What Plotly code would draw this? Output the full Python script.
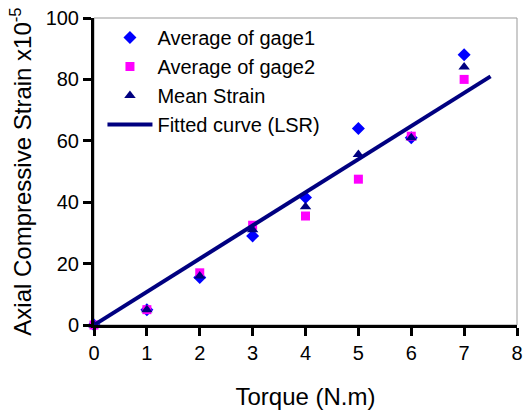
import plotly.graph_objects as go

torque = [0, 1, 2, 3, 4, 5, 6, 7]
gage1 = [0, 5, 15.5, 29, 41.5, 64, 61, 88]
gage2 = [0, 5, 17, 32.5, 35.5, 47.5, 61.5, 80]
mean_strain = [0, 5, 16, 31, 38.5, 55.5, 61, 84]
fit_x = [0, 7.5]
fit_y = [0, 81]

font = "Liberation Sans, Arial, sans-serif"

fig = go.Figure()
fig.add_trace(go.Scatter(x=torque, y=gage1, mode="markers", name="Average of gage1",
                         marker=dict(symbol="diamond", size=10, color="#0000FF"), cliponaxis=False))
fig.add_trace(go.Scatter(x=torque, y=gage2, mode="markers", name="Average of gage2",
                         marker=dict(symbol="square", size=9, color="#FF00FF"), cliponaxis=False))
fig.add_trace(go.Scatter(x=torque, y=mean_strain, mode="markers", name="Mean Strain",
                         marker=dict(symbol="triangle-up", size=10, color="#000080"), cliponaxis=False))
fig.add_trace(go.Scatter(x=fit_x, y=fit_y, mode="lines", name="Fitted curve (LSR)",
                         line=dict(color="#000080", width=4), cliponaxis=False))

fig.update_layout(
    width=523, height=410,
    margin=dict(l=94, r=6, t=18, b=85),
    paper_bgcolor="white", plot_bgcolor="white",
    font=dict(family=font, size=20, color="black"),
    showlegend=True,
    legend=dict(x=0.02, y=1.0, xanchor="left", yanchor="top", bgcolor="rgba(0,0,0,0)",
                font=dict(size=20), tracegroupgap=0, itemwidth=45),
    shapes=[dict(type="rect", xref="paper", yref="paper", x0=0, y0=0, x1=1, y1=1,
                 line=dict(color="#999999", width=1), layer="below")],
)
fig.update_xaxes(range=[0, 8], tickmode="linear", dtick=1, showgrid=False, zeroline=False,
                 showline=True, linecolor="black", linewidth=3, automargin=False,
                 ticklabeloverflow="allow",
                 ticks="outside", ticklen=8, tickwidth=3, tickcolor="black",
                 title=dict(text="Torque (N.m)", standoff=28), tickfont=dict(size=20))
fig.update_yaxes(range=[0, 100], tickmode="linear", dtick=20, showgrid=False, zeroline=False,
                 showline=True, linecolor="black", linewidth=3, automargin=False,
                 ticklabeloverflow="allow",
                 ticks="outside", ticklen=8, tickwidth=3, tickcolor="black",
                 title=dict(text="Axial Compressive Strain x10<sup>-5</sup>", standoff=8),
                 tickfont=dict(size=20))

fig.write_html("out.html", config={"displayModeBar": False},
               post_script="document.body.style.margin='0';document.body.style.overflow='hidden';")
